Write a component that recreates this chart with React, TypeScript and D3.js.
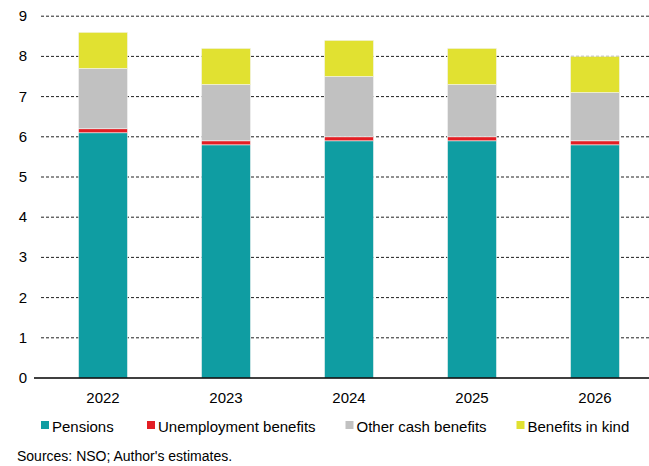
import React from "react";
import * as d3 from "d3";

const years = ["2022", "2023", "2024", "2025", "2026"];
const pensions = [6.1, 5.8, 5.9, 5.9, 5.8];
const unemployment = [0.1, 0.1, 0.1, 0.1, 0.1];
const otherCash = [1.5, 1.4, 1.5, 1.3, 1.2];
const inKind = [0.9, 0.9, 0.9, 0.9, 0.9];
const seriesNames = ["Pensions", "Unemployment benefits", "Other cash benefits", "Benefits in kind"];
const seriesColors = ["#0f9da2", "#e31e24", "#c1c1c1", "#e1e131"];
const yTicks = [0, 1, 2, 3, 4, 5, 6, 7, 8, 9];
const sourceNote = "Sources: NSO; Author's estimates.";

const W = 649, H = 466;
const FONT = "'Liberation Sans', Arial, sans-serif";

export default function App() {
  const x = d3.scaleBand<string>().domain(years).range([41.5, 656.5]).paddingInner(0.6).paddingOuter(0.3);
  const y = d3.scaleLinear().domain([0, 9]).range([378, 16.2]);
  const data = years.map((yr, i) => ({
    year: yr,
    s0: pensions[i], s1: unemployment[i], s2: otherCash[i], s3: inKind[i],
  }));
  const stack = d3.stack<any>().keys(["s0", "s1", "s2", "s3"]);
  const layers = stack(data);
  const bw = 49;
  const legendX = [41, 147, 345.5, 516.5];

  return (
    <svg width={W} height={H} style={{ position: "absolute", left: 0, top: 0 }} fontFamily={FONT}>
      <rect width={W} height={H} fill="#fff" />
      {yTicks.filter((t) => t > 0).map((t) => (
        <line key={t} x1={41} x2={W} y1={y(t)} y2={y(t)} stroke="#222" strokeWidth={1} strokeDasharray="3,2" />
      ))}
      {yTicks.map((t) => (
        <text key={t} x={27} y={y(t) + 5} textAnchor="end" fontSize={15} fill="#000">{t}</text>
      ))}
      {layers.map((layer, li) => (
        <g key={li} fill={seriesColors[li]}>
          {layer.map((d, i) => {
            const cx = x(years[i])! + x.bandwidth() / 2;
            return (
              <rect key={i} x={cx - bw / 2} width={bw} y={y(d[1])} height={y(d[0]) - y(d[1])} stroke="#f4f4f4" strokeWidth={0.6} />
            );
          })}
        </g>
      ))}
      <line x1={34} x2={W} y1={378} y2={378} stroke="#000" strokeWidth={1.5} />
      {years.map((yr) => (
        <text key={yr} x={x(yr)! + x.bandwidth() / 2} y={403} textAnchor="middle" fontSize={15} fill="#000">{yr}</text>
      ))}
      {seriesNames.map((n, i) => (
        <g key={n}>
          <rect x={legendX[i]} y={421} width={8} height={8} fill={seriesColors[i]} />
          <text x={legendX[i] + 11} y={432} fontSize={15} fill="#000">{n}</text>
        </g>
      ))}
      <text x={17} y={461} fontSize={14} fill="#000">{sourceNote}</text>
    </svg>
  );
}
